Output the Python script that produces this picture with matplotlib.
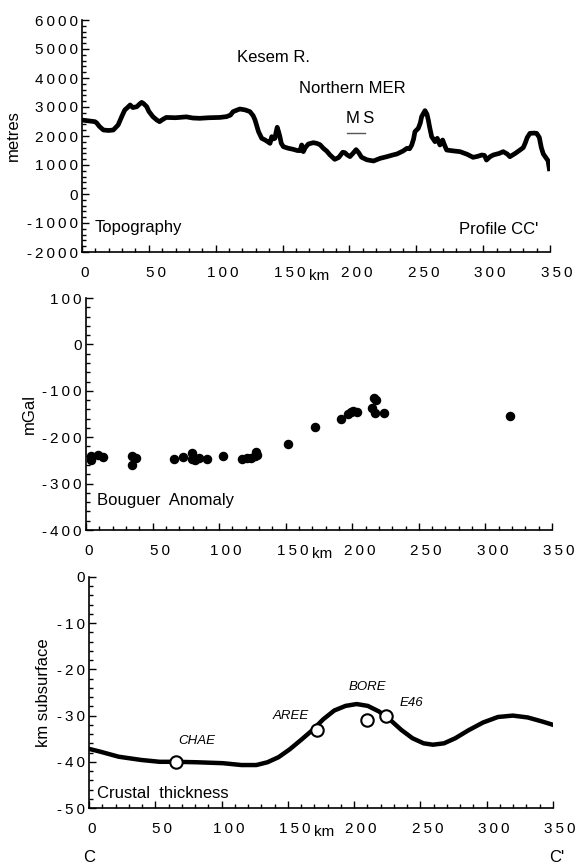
import matplotlib
matplotlib.use("Agg")
import matplotlib.pyplot as plt
from matplotlib.ticker import MultipleLocator, FuncFormatter
from matplotlib.transforms import ScaledTranslation

plt.rcParams['font.family'] = ['Liberation Sans', 'DejaVu Sans']

# ---------------- data ----------------
topo_km = [0, 5, 9.7, 11, 13, 16, 20, 23.4, 27, 30, 32, 34, 36, 38, 41, 43, 44.6, 46, 48.4, 50,
           53, 56, 58, 60, 63, 70, 78, 83, 88, 95, 103, 108, 111, 113, 118, 122, 125.6, 128,
           129.4, 131, 132, 134.4, 136.9, 139, 140.6, 141.9, 143, 144.3, 145, 146, 147, 148,
           149, 150.6, 154, 158, 161, 163, 164.3, 165.5, 167, 169.3, 173, 175.5, 178, 180.5,
           183, 185.5, 189, 192, 195, 196.6, 198, 200.4, 203, 205, 207, 209, 213, 218, 223,
           228, 232, 235.5, 240, 243, 245, 246.6, 248, 249, 251.5, 253, 254, 256.5, 258, 259,
           260, 261.5, 264, 265.7, 267.7, 269.7, 271, 272.7, 277, 282.7, 288, 292.5, 296, 299,
           301, 302.5, 305, 307.5, 312, 315, 318, 320, 324, 327.6, 330, 331.4, 333, 335, 338,
           340, 342, 343.5, 345, 347, 348.5, 349.5]
topo_m = [2550, 2520, 2494, 2450, 2330, 2207, 2190, 2207, 2380, 2700, 2897, 2980, 3070, 2980,
          3010, 3100, 3160, 3120, 3010, 2850, 2667, 2550, 2494, 2560, 2640, 2630, 2660, 2620,
          2610, 2630, 2640, 2667, 2720, 2840, 2931, 2900, 2840, 2700, 2552, 2300, 2150, 1920,
          1862, 1800, 1747, 1977, 1900, 1920, 2100, 2300, 2150, 1977, 1750, 1632, 1580, 1540,
          1500, 1494, 1690, 1460, 1600, 1724, 1770, 1747, 1700, 1575, 1480, 1345, 1195, 1260,
          1440, 1425, 1360, 1290, 1420, 1530, 1420, 1270, 1180, 1138, 1230, 1287, 1340, 1380,
          1480, 1575, 1560, 1690, 1900, 2150, 2265, 2450, 2667, 2874, 2750, 2552, 2300, 1977,
          1805, 1920, 1690, 1862, 1700, 1517, 1490, 1460, 1370, 1264, 1300, 1345, 1330, 1172,
          1280, 1345, 1400, 1460, 1380, 1287, 1400, 1517, 1600, 1747, 1950, 2092, 2100, 2092,
          1950, 1600, 1380, 1250, 1150, 870]

bouguer_km = [3.5, 3.8, 9.3, 13, 34.3, 34.8, 37.5, 66, 73, 79.4, 79.4, 81.9, 85, 91, 103, 117,
              120.7, 124, 127, 128, 128.7, 152, 172, 191.5, 197, 199, 200.8, 203.5, 215, 216.3,
              217.5, 217, 224, 318.7]
bouguer_mgal = [-249, -240, -238, -243, -241, -260, -245, -248, -243, -233, -248, -249, -245,
                -247, -240, -247, -245, -244, -241, -231, -238, -215, -179, -161, -151, -145,
                -143, -145, -136, -116, -120, -148, -147, -154]

moho_km = [0, 8.4, 22.4, 39.3, 53.3, 65.9, 81.3, 101, 115, 126.2, 134.6, 143, 151.4, 159.8,
           168.3, 176.7, 185, 193.5, 201.9, 210.3, 218.7, 227.1, 235.6, 244, 252.4, 259.4,
           267.8, 276.3, 286.1, 297.2, 308.5, 319.7, 330.9, 342.1, 350]
moho_depth = [-37.2, -37.8, -38.9, -39.6, -40.0, -40.0, -40.1, -40.3, -40.7, -40.7, -40.1,
              -39.0, -37.3, -35.3, -33.2, -30.8, -28.9, -27.9, -27.5, -27.9, -29.1, -30.9,
              -33.1, -34.9, -36.0, -36.3, -36.0, -34.9, -33.2, -31.5, -30.3, -30.0, -30.4,
              -31.3, -32.0]

station_names = ['CHAE', 'AREE', 'BORE', 'E46']
station_km = [65.3, 171.9, 209.7, 223.8]
station_depth = [-40.1, -33.1, -30.9, -30.0]

# ---------------- figure ----------------
W, H = 579, 865
fig = plt.figure(figsize=(W / 100, H / 100), dpi=100)


def px_axes(x0, x1, y0, y1):
    return fig.add_axes([x0 / W, (H - y1) / H, (x1 - x0) / W, (y1 - y0) / H])


def spaced(v, pos):
    s = '%d' % v
    return '\u2009'.join(s)


def style(ax, ymin, ymax, ymaj, ymin_step, ylabel):
    ax.set_xlim(0, 350)
    ax.set_ylim(ymin, ymax)
    ax.spines['top'].set_visible(False)
    ax.spines['right'].set_visible(False)
    for s in ('left', 'bottom'):
        ax.spines[s].set_linewidth(1.2)
    ax.xaxis.set_major_locator(MultipleLocator(50))
    ax.xaxis.set_minor_locator(MultipleLocator(10))
    ax.yaxis.set_major_locator(MultipleLocator(ymaj))
    ax.yaxis.set_minor_locator(MultipleLocator(ymin_step))
    ax.xaxis.set_major_formatter(FuncFormatter(spaced))
    ax.yaxis.set_major_formatter(FuncFormatter(spaced))
    ax.tick_params(which='both', direction='in', labelsize=11, width=1.0)
    ax.tick_params(which='major', length=5)
    ax.tick_params(which='minor', length=3)
    ax.tick_params(axis='x', which='major', pad=10)
    ax.tick_params(axis='y', which='major', pad=3)
    ax.set_ylabel(ylabel, fontsize=12, labelpad=4)
    ax.text(177 / 350, -0.075, 'km', transform=ax.transAxes, fontsize=11,
            ha='center', va='top')
    # shift x tick labels slightly to the right as in the original
    labels = ax.get_xticklabels()
    for lab in labels:
        dx = 3 if lab.get_text() == '0' else 7
        lab.set_transform(lab.get_transform() + ScaledTranslation(dx / 100, 0, fig.dpi_scale_trans))


# Topography
ax1 = px_axes(82, 550, 20, 252)
style(ax1, -2000, 6000, 1000, 200, 'metres')
ax1.plot(topo_km, topo_m, color='black', lw=3.4, solid_joinstyle='round')
ax1.text(116, 4700, 'Kesem R.', fontsize=12, va='center', ha='left')
ax1.text(162, 3650, 'Northern MER', fontsize=12, va='center', ha='left')
ax1.text(208, 2620, 'M\u2009S', fontsize=12, va='center', ha='center')
ax1.plot([198, 212], [2090, 2090], color='#555555', lw=1.0)
ax1.text(9.5, -1150, 'Topography', fontsize=12, va='center', ha='left')
ax1.text(341, -1240, "Profile CC'", fontsize=12, va='center', ha='right')

# Bouguer anomaly
ax2 = px_axes(86, 552, 298, 530)
style(ax2, -400, 100, 100, 20, 'mGal')
ax2.scatter(bouguer_km, bouguer_mgal, s=34, color='black', zorder=3)
ax2.text(8, -337, 'Bouguer  Anomaly', fontsize=12, va='center', ha='left')

# Crustal thickness
ax3 = px_axes(89, 553, 577, 808)
style(ax3, -50, 0, 10, 2, 'km subsurface')
ax3.plot(moho_km, moho_depth, color='black', lw=3.2)
ax3.scatter(station_km, station_depth, s=80, facecolor='white', edgecolor='black',
            linewidth=1.5, zorder=3)
label_pos = [(81, -35.4), (152.3, -30.0), (210.3, -23.8), (243.3, -27.3)]
for name, (lx, ly) in zip(station_names, label_pos):
    ax3.text(lx, ly, name, fontsize=9.5, style='italic', ha='center', va='center')
ax3.text(6, -46.8, 'Crustal  thickness', fontsize=12, va='center', ha='left')
ax3.text(0, -60.8, 'C', fontsize=12, ha='center', va='center', clip_on=False)
ax3.text(353, -60.8, "C'", fontsize=12, ha='center', va='center', clip_on=False)

fig.savefig('out.png', dpi=100)
